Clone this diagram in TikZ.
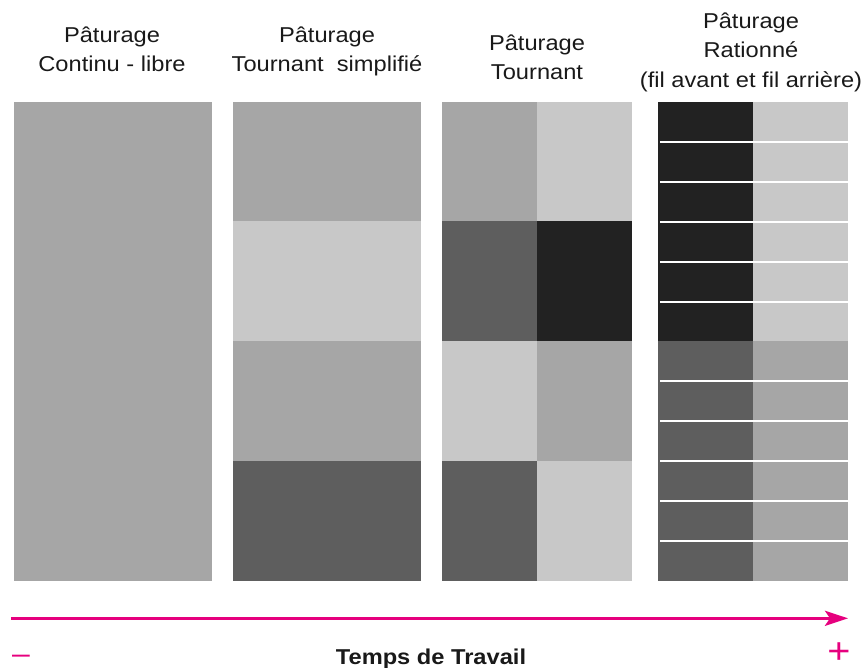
\documentclass[tikz,border=0pt]{standalone}
\usepackage{fontspec}
\setmainfont{Liberation Sans}[FakeStretch=1.1]
\usetikzlibrary{arrows.meta}
\definecolor{clair}{HTML}{C8C8C8}
\definecolor{moyen}{HTML}{A6A6A6}
\definecolor{fonce}{HTML}{5E5E5E}
\definecolor{noir}{HTML}{222222}
\definecolor{rose}{RGB}{230,0,126}

\begin{document}
\begin{tikzpicture}[x=1pt, y=-1pt,
    titre/.style={align=center, anchor=north, inner sep=0pt, text=black!90,
      font=\fontsize{21.5}{29}\selectfont},
    signe/.style={rose, anchor=base, inner sep=0pt}]
  \useasboundingbox (0,0) rectangle (865,668);

  % titres
  \node[titre] (continu) at (112,26.2) {Pâturage\\Continu - libre};
  \node[titre] (simplifie) at (327,26.5) {Pâturage\\Tournant\ \ simplifié};
  \node[titre] (tournant) at (537,34.5) {Pâturage\\Tournant};
  \node[titre, font=\fontsize{21.5}{29.5}\selectfont] (rationne) at (751,12.5)
    {Pâturage\\Rationné\\(fil avant et fil arrière)};

  % continu - libre
  \fill[moyen] (14,102) rectangle (212,581);

  % tournant simplifie
  \foreach \ya/\yb/\c in {102/221/moyen, 221/341/clair, 341/461/moyen, 461/581/fonce}
    \fill[\c] (233,\ya) rectangle (421,\yb);

  % tournant
  \foreach \ya/\yb/\ca/\cb in {102/221/moyen/clair, 221/341/fonce/noir,
      341/461/clair/moyen, 461/581/fonce/clair}{
    \fill[\ca] (442,\ya) rectangle (537,\yb);
    \fill[\cb] (537,\ya) rectangle (632,\yb);
  }

  % rationne
  \fill[noir] (658,102) rectangle (753,341);
  \fill[clair] (753,102) rectangle (848,341);
  \fill[fonce] (658,341) rectangle (753,581);
  \fill[moyen] (753,341) rectangle (848,581);
  \foreach \y in {142,182,222,262,302,381,421,461,501,541}
    \draw[white, line width=2pt] (660,\y) -- (848,\y);

  % temps de travail
  \coordinate (depart) at (11,618.3);
  \coordinate (fin) at (848,618.3);
  \draw[rose, line width=3pt, -{Stealth[length=23pt, width=15pt, inset=5pt]}] (depart) -- (fin);
  \node[signe, font=\fontsize{29}{29}\selectfont] (moins) at (21,663.5) {–};
  \node[signe, font=\fontsize{36}{36}\selectfont] (plus) at (839,663.5) {+};
  \node[anchor=base, inner sep=0pt, text=black!90, font=\fontsize{21.5}{29}\selectfont\bfseries]
    (temps) at (431,664.5) {Temps de Travail};
\end{tikzpicture}
\end{document}
